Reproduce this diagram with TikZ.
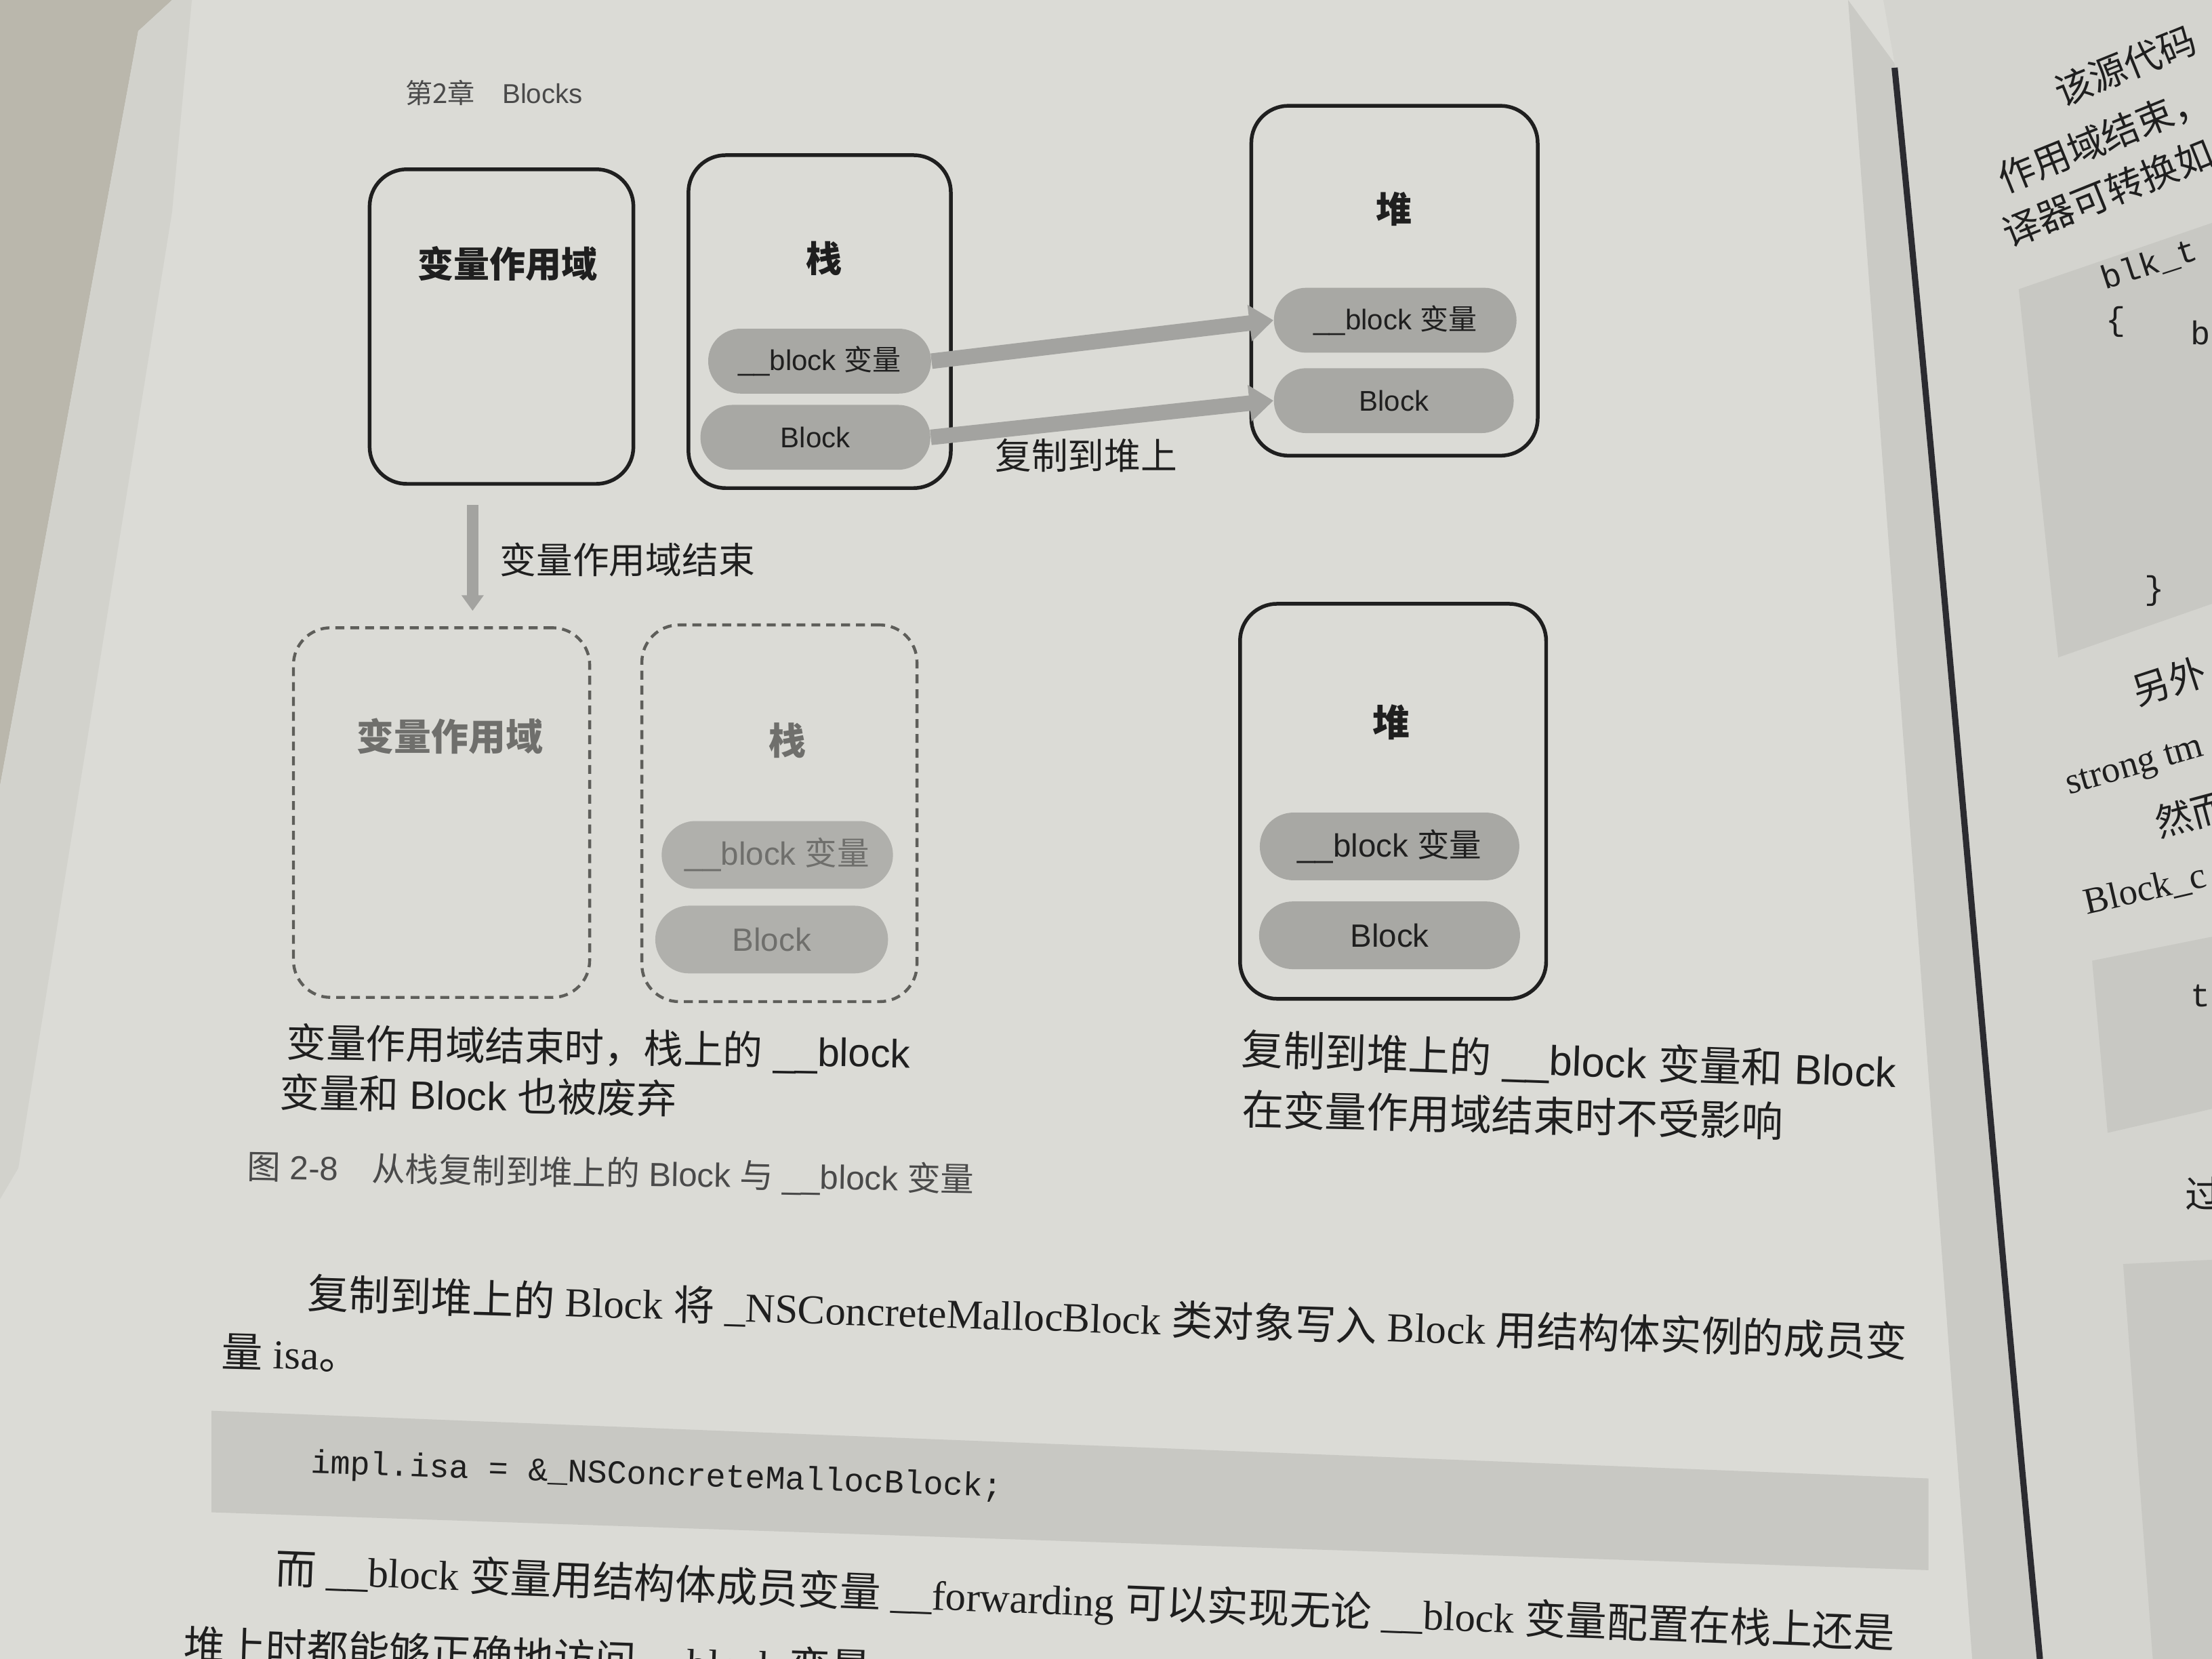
\documentclass[tikz,border=0pt]{standalone}
\usepackage{fontspec}
\setmainfont{Liberation Sans}
\newfontfamily\cjk{Noto Sans CJK SC}
\newfontfamily\serifl{Liberation Serif}
\newfontfamily\monol{Liberation Mono}
\usetikzlibrary{arrows.meta,fit,calc}
\newcommand\fs[1]{\fontsize{#1}{#1}\selectfont}
\definecolor{tablec}{HTML}{BAB7AC}
\definecolor{stackc}{HTML}{D2D2CC}
\definecolor{pagec}{HTML}{DBDBD6}
\definecolor{rpagec}{HTML}{D4D4CF}
\definecolor{shadec}{HTML}{CACAC5}
\definecolor{gutterc}{HTML}{2B2B30}
\definecolor{inkc}{HTML}{1F1F1F}
\definecolor{hdrc}{HTML}{4A4A4A}
\definecolor{pillc}{HTML}{A8A8A4}
\definecolor{arrowc}{HTML}{A3A3A0}
\definecolor{dashc}{HTML}{5E5E5A}
\definecolor{fadepillc}{HTML}{B0B0AC}
\definecolor{fadetextc}{HTML}{6F6F6C}
\definecolor{codec}{HTML}{C8C8C3}
\tikzset{
  frame/.style={draw=inkc, line width=1.5pt, rounded corners=15pt, inner sep=0pt},
  dframe/.style={draw=dashc, line width=1.2pt, dash pattern=on 3.6pt off 2.4pt, rounded corners=15pt, inner sep=0pt},
  boxtitle/.style={font=\cjk\bfseries\fs{14.5}, text=inkc, inner sep=0pt},
  fadetitle/.style={font=\cjk\bfseries\fs{15}, text=fadetextc, inner sep=0pt},
  pill/.style={fill=pillc, text=inkc, rounded corners=13pt, minimum height=0.92cm, inner sep=0pt, font=\fs{11.5}},
  bigpill/.style={fill=pillc, text=inkc, rounded corners=13.6pt, minimum height=0.96cm, inner sep=0pt, font=\fs{13}},
  fadepill/.style={fill=fadepillc, text=fadetextc, rounded corners=13.6pt, minimum height=0.96cm, inner sep=0pt, font=\fs{13}},
  bigarrow/.style={draw=arrowc, line width=0.22cm, -{Triangle[length=0.34cm,width=0.5cm]}},
  downarrow/.style={draw=arrowc, line width=0.16cm, -{Triangle[length=0.22cm,width=0.3cm]}},
  lbl/.style={font=\cjk\fs{14.7}, text=inkc, inner sep=0pt},
  captext/.style={font=\fs{16}, text=inkc, inner sep=0pt},
  figcap/.style={font=\fs{13.5}, text=hdrc, inner sep=0pt},
  body/.style={font=\serifl\fs{16.6}, text=inkc, inner sep=0pt},
  codetext/.style={font=\monol\fs{13.3}, text=inkc, inner sep=0pt},
  rtext/.style={font=\cjk\fs{15}, text=inkc, inner sep=0pt},
}
\begin{document}
\begin{tikzpicture}[x=0.02cm,y=-0.02cm]
\useasboundingbox (0,0) rectangle (1568,1176);
\clip (0,0) rectangle (1568,1176);
% ---------- page background ----------
\fill[pagec] (0,0) rectangle (1568,1176);
\fill[tablec] (0,0) -- (122,0) -- (98,22) -- (0,557) -- cycle;
\fill[stackc] (98,22) -- (122,0) -- (136,0) -- (122,150) -- (13,828) -- (0,850) -- (0,557) -- cycle;
\fill[shadec] (1310,0) -- (1343,45) -- (1446,1176) -- (1398,1176) -- cycle;
\fill[rpagec] (1335,0) -- (1568,0) -- (1568,1176) -- (1446,1176) -- (1343,45) -- cycle;
\draw[gutterc, line width=2.5pt] (1343,48) .. controls (1380,420) and (1410,800) .. (1446,1176);
% right page code boxes
\fill[codec] (1431,205) -- (1568,158) -- (1568,428) -- (1459,466) -- cycle;
\fill[codec] (1483,681) -- (1568,664) -- (1568,786) -- (1494,803) -- cycle;
\fill[codec] (1505,896) -- (1568,893) -- (1568,1176) -- (1526,1176) -- cycle;
% ---------- header ----------
\node[font=\fs{11}, text=hdrc, anchor=west, inner sep=0pt] (hdr) at (287,66) {{\cjk 第2章}\hspace{1em}Blocks};
% ---------- upper diagram ----------
\node[frame, fit={(262,120)(449,343)}] (scopeA) {};
\node[boxtitle] (scopeAt) at (360,187) {变量作用域};
\node[frame, fit={(488,110)(674,346)}] (stackA) {};
\node[boxtitle] (stackAt) at (584,183) {栈};
\node[pill, minimum width=3.16cm] (stackAv) at (581,256) {\_\_block {\cjk 变量}};
\node[pill, minimum width=3.26cm] (stackAb) at (578,310) {Block};
\node[frame, fit={(887,75)(1090,323)}] (heapA) {};
\node[boxtitle] (heapAt) at (988,148) {堆};
\node[pill, minimum width=3.44cm] (heapAv) at (989,227) {\_\_block {\cjk 变量}};
\node[pill, minimum width=3.40cm] (heapAb) at (988,284) {Block};
\draw[bigarrow] (stackAv.east) -- (heapAv.west);
\draw[bigarrow] (stackAb.east) -- (heapAb.west);
\node[lbl] (copyl) at (770,323) {复制到堆上};
% ---------- scope end arrow ----------
\coordinate (endA) at (335,358);
\coordinate (endB) at (335,433);
\draw[downarrow] (endA) -- (endB);
\node[lbl, anchor=west] (endl) at (354,397) {变量作用域结束};
% ---------- lower diagram ----------
\node[dframe, fit={(208,445)(418,707)}] (scopeB) {};
\node[fadetitle] (scopeBt) at (319,522) {变量作用域};
\node[dframe, fit={(455,443)(650,710)}] (stackB) {};
\node[fadetitle] (stackBt) at (558,525) {栈};
\node[fadepill, minimum width=3.28cm] (stackBv) at (551,606) {\_\_block {\cjk 变量}};
\node[fadepill, minimum width=3.30cm] (stackBb) at (547,666) {Block};
\node[frame, fit={(879,428)(1096,708)}] (heapB) {};
\node[boxtitle, font=\cjk\bfseries\fs{15}] (heapBt) at (986,512) {堆};
\node[bigpill, minimum width=3.68cm] (heapBv) at (985,600) {\_\_block {\cjk 变量}};
\node[bigpill, minimum width=3.70cm] (heapBb) at (985,663) {Block};
% ---------- captions ----------
\node[captext, anchor=west, rotate=-1] (capL1) at (203,740) {{\cjk 变量作用域结束时，栈上的} \_\_block};
\node[captext, anchor=west, rotate=-1] (capL2) at (198,774) {{\cjk 变量和} Block {\cjk 也被废弃}};
\node[captext, anchor=west, rotate=-2, font=\fs{16.8}] (capR1) at (880,745) {{\cjk 复制到堆上的} \_\_block {\cjk 变量和} Block};
\node[captext, anchor=west, rotate=-1.3, font=\fs{16.8}] (capR2) at (880,786) {{\cjk 在变量作用域结束时不受影响}};
\node[figcap, anchor=west, rotate=-1] (figc) at (175,828) {{\cjk 图} 2-8\hspace{1em}{\cjk 从栈复制到堆上的} Block {\cjk 与} \_\_block {\cjk 变量}};
% ---------- body text ----------
\node[body, anchor=west, rotate=-1.75] (p1) at (218,917) {{\cjk 复制到堆上的} Block {\cjk 将} \_NSConcreteMallocBlock {\cjk 类对象写入} Block {\cjk 用结构体实例的成员变}};
\node[body, anchor=west, rotate=-1.6] (p2) at (157,958) {{\cjk 量} isa{\cjk 。}};
\fill[codec] (150,1000) -- (1367,1048) -- (1367,1113) -- (150,1072) -- cycle;
\node[codetext, anchor=west, rotate=-2] (code) at (220,1038) {impl.isa = \&\_NSConcreteMallocBlock;};
\node[body, anchor=west, rotate=-2.3] (p3) at (195,1113) {{\cjk 而} \_\_block {\cjk 变量用结构体成员变量} \_\_forwarding {\cjk 可以实现无论} \_\_block {\cjk 变量配置在栈上还是}};
\node[body, anchor=west, rotate=-2] (p4) at (130,1166) {{\cjk 堆上时都能够正确地访问} \_\_block {\cjk 变量。}};
% ---------- right page fragments ----------
\node[rtext, anchor=south west, rotate=22] (r1) at (1462,78) {该源代码};
\node[rtext, anchor=south west, rotate=22] (r2) at (1422,140) {作用域结束，};
\node[rtext, anchor=south west, rotate=22] (r3) at (1425,178) {译器可转换如};
\node[codetext, anchor=south west, rotate=18] (r4) at (1493,208) {blk\_t};
\node[codetext] (r5) at (1500,228) {\{};
\node[codetext] (r6) at (1560,236) {b};
\node[codetext] (r7) at (1527,419) {\}};
\node[rtext, anchor=south west, rotate=18] (r8) at (1516,503) {另外};
\node[body, anchor=south west, rotate=16, font=\serifl\fs{15}] (r9) at (1468,569) {strong tm};
\node[rtext, anchor=south west, rotate=15] (r10) at (1531,596) {然而};
\node[body, anchor=south west, rotate=13, font=\serifl\fs{15}] (r11) at (1480,652) {Block\_c};
\node[codetext] (r12) at (1560,706) {t};
\node[rtext] (r13) at (1562,846) {过};
\end{tikzpicture}
\end{document}
